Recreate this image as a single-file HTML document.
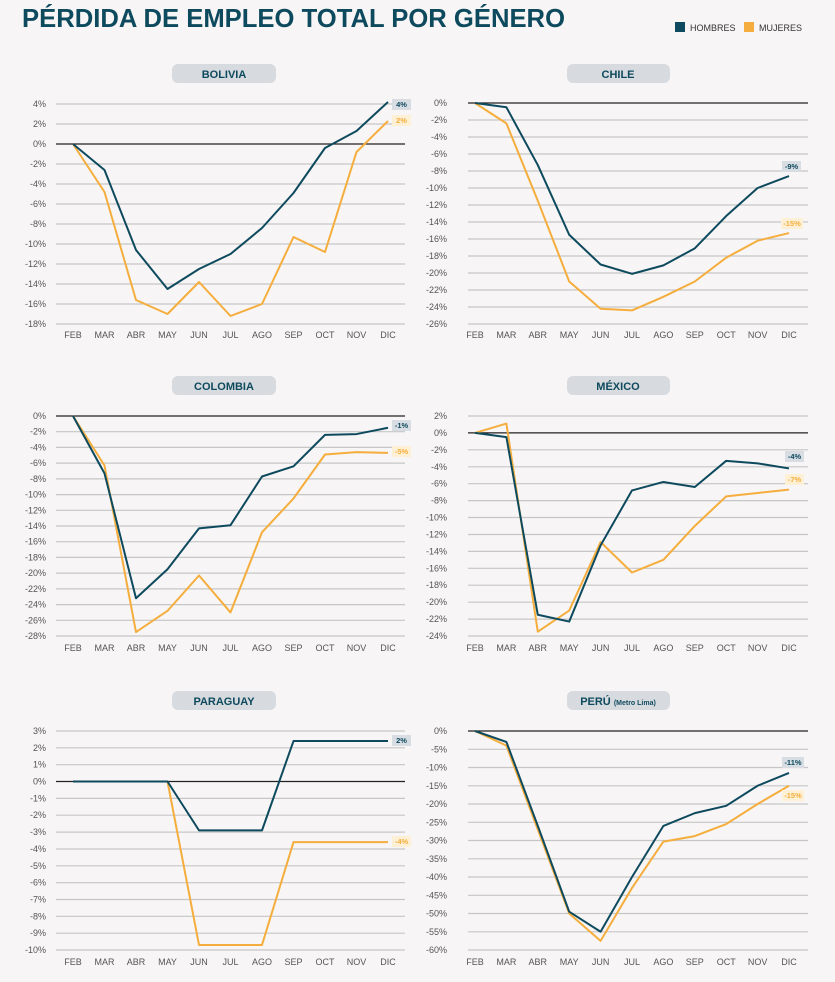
<!DOCTYPE html>
<html><head><meta charset="utf-8"><style>
html,body{margin:0;padding:0;background:#f7f5f5;}
svg{display:block;font-family:"Liberation Sans",sans-serif;}
.g line{stroke:#c6c6c6;stroke-width:1.2}
.z{stroke:#222 !important;stroke-width:1.3 !important}
.yl text{font-size:9px;fill:#555;text-anchor:end}
.ml text{font-size:9px;fill:#555;text-anchor:middle}
.h{fill:none;stroke:#0e4a5e;stroke-width:2;vector-effect:non-scaling-stroke;stroke-linejoin:round}
.m{fill:none;stroke:#f5ae3d;stroke-width:2;vector-effect:non-scaling-stroke;stroke-linejoin:round}
.pt{font-size:11px;font-weight:bold;fill:#0e4a5e;text-anchor:middle}
.tg{font-size:7.5px;font-weight:bold;text-anchor:middle}
</style></head><body>
<svg width="835" height="982" viewBox="0 0 835 982">
<rect width="835" height="982" fill="#f7f5f5"/>
<text x="22" y="27" font-size="26" font-weight="bold" fill="#0e4a5e" textLength="543" lengthAdjust="spacingAndGlyphs">PÉRDIDA DE EMPLEO TOTAL POR GÉNERO</text>
<rect x="675" y="22" width="10" height="10" fill="#0e4a5e"/>
<text x="690" y="31" font-size="9" fill="#333">HOMBRES</text>
<rect x="744" y="22" width="10" height="10" fill="#f5ae3d"/>
<text x="759" y="31" font-size="9" fill="#333">MUJERES</text>

<rect x="172" y="64" width="104" height="19" rx="6" fill="#d7dade"/><text class="pt" x="224" y="78">BOLIVIA</text>
<rect x="567" y="64" width="103" height="19" rx="6" fill="#d7dade"/><text class="pt" x="618" y="78">CHILE</text>
<rect x="172" y="376" width="104" height="19" rx="6" fill="#d7dade"/><text class="pt" x="224" y="390">COLOMBIA</text>
<rect x="567" y="376" width="103" height="19" rx="6" fill="#d7dade"/><text class="pt" x="618" y="390">MÉXICO</text>
<rect x="172" y="691" width="104" height="19" rx="6" fill="#d7dade"/><text class="pt" x="224" y="705">PARAGUAY</text>
<rect x="567" y="691" width="103" height="19" rx="6" fill="#d7dade"/><text class="pt" x="618" y="705">PERÚ <tspan font-size="7">(Metro Lima)</tspan></text>

<g class="g"><line x1="56" x2="405" y1="104" y2="104"/><line x1="56" x2="405" y1="124" y2="124"/><line x1="56" x2="405" y1="164" y2="164"/><line x1="56" x2="405" y1="184" y2="184"/><line x1="56" x2="405" y1="204" y2="204"/><line x1="56" x2="405" y1="224" y2="224"/><line x1="56" x2="405" y1="244" y2="244"/><line x1="56" x2="405" y1="264" y2="264"/><line x1="56" x2="405" y1="284" y2="284"/><line x1="56" x2="405" y1="304" y2="304"/><line x1="56" x2="405" y1="324" y2="324"/><line class="z" x1="56" x2="405" y1="144" y2="144"/></g>
<g class="yl"><text x="46" y="107">4%</text><text x="46" y="127">2%</text><text x="46" y="147">0%</text><text x="46" y="167">-2%</text><text x="46" y="187">-4%</text><text x="46" y="207">-6%</text><text x="46" y="227">-8%</text><text x="46" y="247">-10%</text><text x="46" y="267">-12%</text><text x="46" y="287">-14%</text><text x="46" y="307">-16%</text><text x="46" y="327">-18%</text></g>
<g class="ml"><text x="73" y="338">FEB</text><text x="104.5" y="338">MAR</text><text x="136" y="338">ABR</text><text x="167.5" y="338">MAY</text><text x="199" y="338">JUN</text><text x="230.5" y="338">JUL</text><text x="262" y="338">AGO</text><text x="293.5" y="338">SEP</text><text x="325" y="338">OCT</text><text x="356.5" y="338">NOV</text><text x="388" y="338">DIC</text></g>
<g transform="translate(73,144) scale(31.5,-10)"><polyline class="m" points="0,0 1,-4.8 2,-15.6 3,-17 4,-13.8 5,-17.2 6,-16 7,-9.3 8,-10.8 9,-0.8 10,2.3"/><polyline class="h" points="0,0 1,-2.6 2,-10.6 3,-14.5 4,-12.5 5,-11 6,-8.4 7,-4.9 8,-0.4 9,1.3 10,4.2"/></g>
<rect x="392" y="99" width="19" height="11" fill="#d7dde3"/><text class="tg" x="401.5" y="107" fill="#0e4a5e">4%</text>
<rect x="392" y="115" width="19" height="11" fill="#fdf0d4"/><text class="tg" x="401.5" y="123" fill="#f5ae3d">2%</text>

<g class="g"><line x1="468" x2="808" y1="120" y2="120"/><line x1="468" x2="808" y1="137" y2="137"/><line x1="468" x2="808" y1="154" y2="154"/><line x1="468" x2="808" y1="171" y2="171"/><line x1="468" x2="808" y1="188" y2="188"/><line x1="468" x2="808" y1="205" y2="205"/><line x1="468" x2="808" y1="222" y2="222"/><line x1="468" x2="808" y1="239" y2="239"/><line x1="468" x2="808" y1="256" y2="256"/><line x1="468" x2="808" y1="273" y2="273"/><line x1="468" x2="808" y1="290" y2="290"/><line x1="468" x2="808" y1="307" y2="307"/><line x1="468" x2="808" y1="324" y2="324"/><line class="z" x1="468" x2="808" y1="103" y2="103"/></g>
<g class="yl"><text x="447" y="106">0%</text><text x="447" y="123">-2%</text><text x="447" y="140">-4%</text><text x="447" y="157">-6%</text><text x="447" y="174">-8%</text><text x="447" y="191">-10%</text><text x="447" y="208">-12%</text><text x="447" y="225">-14%</text><text x="447" y="242">-16%</text><text x="447" y="259">-18%</text><text x="447" y="276">-20%</text><text x="447" y="293">-22%</text><text x="447" y="310">-24%</text><text x="447" y="327">-26%</text></g>
<g class="ml"><text x="475" y="338">FEB</text><text x="506.4" y="338">MAR</text><text x="537.8" y="338">ABR</text><text x="569.2" y="338">MAY</text><text x="600.6" y="338">JUN</text><text x="632" y="338">JUL</text><text x="663.4" y="338">AGO</text><text x="694.8" y="338">SEP</text><text x="726.2" y="338">OCT</text><text x="757.6" y="338">NOV</text><text x="789" y="338">DIC</text></g>
<g transform="translate(475,103) scale(31.4,-8.5)"><polyline class="m" points="0,0 1,-2.4 2,-11.5 3,-21 4,-24.2 5,-24.4 6,-22.8 7,-21 8,-18.2 9,-16.2 10,-15.3"/><polyline class="h" points="0,0 1,-0.5 2,-7.3 3,-15.5 4,-19 5,-20.1 6,-19.1 7,-17.1 8,-13.3 9,-10 10,-8.6"/></g>
<rect x="782" y="161" width="19" height="11" fill="#d7dde3"/><text class="tg" x="791.5" y="169" fill="#0e4a5e">-9%</text>
<rect x="781" y="218" width="22" height="11" fill="#fdf0d4"/><text class="tg" x="792" y="226" fill="#f5ae3d">-15%</text>

<g class="g"><line x1="56" x2="405" y1="431.7" y2="431.7"/><line x1="56" x2="405" y1="447.4" y2="447.4"/><line x1="56" x2="405" y1="463.1" y2="463.1"/><line x1="56" x2="405" y1="478.9" y2="478.9"/><line x1="56" x2="405" y1="494.6" y2="494.6"/><line x1="56" x2="405" y1="510.3" y2="510.3"/><line x1="56" x2="405" y1="526" y2="526"/><line x1="56" x2="405" y1="541.7" y2="541.7"/><line x1="56" x2="405" y1="557.4" y2="557.4"/><line x1="56" x2="405" y1="573.1" y2="573.1"/><line x1="56" x2="405" y1="588.9" y2="588.9"/><line x1="56" x2="405" y1="604.6" y2="604.6"/><line x1="56" x2="405" y1="620.3" y2="620.3"/><line x1="56" x2="405" y1="636" y2="636"/><line class="z" x1="56" x2="405" y1="416" y2="416"/></g>
<g class="yl"><text x="46" y="419">0%</text><text x="46" y="434.7">-2%</text><text x="46" y="450.4">-4%</text><text x="46" y="466.1">-6%</text><text x="46" y="481.9">-8%</text><text x="46" y="497.6">-10%</text><text x="46" y="513.3">-12%</text><text x="46" y="529">-14%</text><text x="46" y="544.7">-16%</text><text x="46" y="560.4">-18%</text><text x="46" y="576.1">-20%</text><text x="46" y="591.9">-22%</text><text x="46" y="607.6">-24%</text><text x="46" y="623.3">-26%</text><text x="46" y="639">-28%</text></g>
<g class="ml"><text x="73" y="651">FEB</text><text x="104.5" y="651">MAR</text><text x="136" y="651">ABR</text><text x="167.5" y="651">MAY</text><text x="199" y="651">JUN</text><text x="230.5" y="651">JUL</text><text x="262" y="651">AGO</text><text x="293.5" y="651">SEP</text><text x="325" y="651">OCT</text><text x="356.5" y="651">NOV</text><text x="388" y="651">DIC</text></g>
<g transform="translate(73,416) scale(31.5,-7.857)"><polyline class="m" points="0,0 1,-6.3 2,-27.5 3,-24.8 4,-20.3 5,-25 6,-14.8 7,-10.5 8,-4.9 9,-4.6 10,-4.7"/><polyline class="h" points="0,0 1,-7.3 2,-23.2 3,-19.5 4,-14.3 5,-13.9 6,-7.7 7,-6.4 8,-2.4 9,-2.3 10,-1.5"/></g>
<rect x="392" y="420" width="19" height="11" fill="#d7dde3"/><text class="tg" x="401.5" y="428" fill="#0e4a5e">-1%</text>
<rect x="392" y="446" width="19" height="11" fill="#fdf0d4"/><text class="tg" x="401.5" y="454" fill="#f5ae3d">-5%</text>

<g class="g"><line x1="468" x2="808" y1="416" y2="416"/><line x1="468" x2="808" y1="449.8" y2="449.8"/><line x1="468" x2="808" y1="466.8" y2="466.8"/><line x1="468" x2="808" y1="483.7" y2="483.7"/><line x1="468" x2="808" y1="500.6" y2="500.6"/><line x1="468" x2="808" y1="517.5" y2="517.5"/><line x1="468" x2="808" y1="534.5" y2="534.5"/><line x1="468" x2="808" y1="551.4" y2="551.4"/><line x1="468" x2="808" y1="568.3" y2="568.3"/><line x1="468" x2="808" y1="585.2" y2="585.2"/><line x1="468" x2="808" y1="602.2" y2="602.2"/><line x1="468" x2="808" y1="619.1" y2="619.1"/><line x1="468" x2="808" y1="636" y2="636"/><line class="z" x1="468" x2="808" y1="432.9" y2="432.9"/></g>
<g class="yl"><text x="447" y="419">2%</text><text x="447" y="435.9">0%</text><text x="447" y="452.8">-2%</text><text x="447" y="469.8">-4%</text><text x="447" y="486.7">-6%</text><text x="447" y="503.6">-8%</text><text x="447" y="520.5">-10%</text><text x="447" y="537.5">-12%</text><text x="447" y="554.4">-14%</text><text x="447" y="571.3">-16%</text><text x="447" y="588.2">-18%</text><text x="447" y="605.2">-20%</text><text x="447" y="622.1">-22%</text><text x="447" y="639">-24%</text></g>
<g class="ml"><text x="475" y="651">FEB</text><text x="506.4" y="651">MAR</text><text x="537.8" y="651">ABR</text><text x="569.2" y="651">MAY</text><text x="600.6" y="651">JUN</text><text x="632" y="651">JUL</text><text x="663.4" y="651">AGO</text><text x="694.8" y="651">SEP</text><text x="726.2" y="651">OCT</text><text x="757.6" y="651">NOV</text><text x="789" y="651">DIC</text></g>
<g transform="translate(475,432.9) scale(31.4,-8.46)"><polyline class="m" points="0,0 1,1.1 2,-23.5 3,-21 4,-12.9 5,-16.5 6,-15 7,-11 8,-7.5 9,-7.1 10,-6.7"/><polyline class="h" points="0,0 1,-0.5 2,-21.5 3,-22.3 4,-13.3 5,-6.8 6,-5.8 7,-6.4 8,-3.3 9,-3.6 10,-4.2"/></g>
<rect x="785" y="451" width="19" height="11" fill="#d7dde3"/><text class="tg" x="794.5" y="459" fill="#0e4a5e">-4%</text>
<rect x="785" y="474" width="19" height="11" fill="#fdf0d4"/><text class="tg" x="794.5" y="482" fill="#f5ae3d">-7%</text>

<g class="g"><line x1="56" x2="405" y1="731" y2="731"/><line x1="56" x2="405" y1="747.8" y2="747.8"/><line x1="56" x2="405" y1="764.7" y2="764.7"/><line x1="56" x2="405" y1="798.4" y2="798.4"/><line x1="56" x2="405" y1="815.2" y2="815.2"/><line x1="56" x2="405" y1="832.1" y2="832.1"/><line x1="56" x2="405" y1="849" y2="849"/><line x1="56" x2="405" y1="865.8" y2="865.8"/><line x1="56" x2="405" y1="882.7" y2="882.7"/><line x1="56" x2="405" y1="899.5" y2="899.5"/><line x1="56" x2="405" y1="916.3" y2="916.3"/><line x1="56" x2="405" y1="933.2" y2="933.2"/><line x1="56" x2="405" y1="950" y2="950"/><line class="z" x1="56" x2="405" y1="781.5" y2="781.5"/></g>
<g class="yl"><text x="46" y="734">3%</text><text x="46" y="750.8">2%</text><text x="46" y="767.7">1%</text><text x="46" y="784.5">0%</text><text x="46" y="801.4">-1%</text><text x="46" y="818.2">-2%</text><text x="46" y="835.1">-3%</text><text x="46" y="852">-4%</text><text x="46" y="868.8">-5%</text><text x="46" y="885.7">-6%</text><text x="46" y="902.5">-7%</text><text x="46" y="919.3">-8%</text><text x="46" y="936.2">-9%</text><text x="46" y="953">-10%</text></g>
<g class="ml"><text x="73" y="965">FEB</text><text x="104.5" y="965">MAR</text><text x="136" y="965">ABR</text><text x="167.5" y="965">MAY</text><text x="199" y="965">JUN</text><text x="230.5" y="965">JUL</text><text x="262" y="965">AGO</text><text x="293.5" y="965">SEP</text><text x="325" y="965">OCT</text><text x="356.5" y="965">NOV</text><text x="388" y="965">DIC</text></g>
<g transform="translate(73,781.5) scale(31.5,-16.85)"><polyline class="m" points="0,0 1,0 2,0 3,0 4,-9.7 5,-9.7 6,-9.7 7,-3.6 8,-3.6 9,-3.6 10,-3.6"/><polyline class="h" points="0,0 1,0 2,0 3,0 4,-2.9 5,-2.9 6,-2.9 7,2.4 8,2.4 9,2.4 10,2.4"/></g>
<rect x="392" y="735" width="19" height="11" fill="#d7dde3"/><text class="tg" x="401.5" y="743" fill="#0e4a5e">2%</text>
<rect x="392" y="836" width="19" height="11" fill="#fdf0d4"/><text class="tg" x="401.5" y="844" fill="#f5ae3d">-4%</text>

<g class="g"><line x1="468" x2="808" y1="749.3" y2="749.3"/><line x1="468" x2="808" y1="767.5" y2="767.5"/><line x1="468" x2="808" y1="785.8" y2="785.8"/><line x1="468" x2="808" y1="804" y2="804"/><line x1="468" x2="808" y1="822.3" y2="822.3"/><line x1="468" x2="808" y1="840.5" y2="840.5"/><line x1="468" x2="808" y1="858.8" y2="858.8"/><line x1="468" x2="808" y1="877" y2="877"/><line x1="468" x2="808" y1="895.3" y2="895.3"/><line x1="468" x2="808" y1="913.5" y2="913.5"/><line x1="468" x2="808" y1="931.8" y2="931.8"/><line x1="468" x2="808" y1="950" y2="950"/><line class="z" x1="468" x2="808" y1="731" y2="731"/></g>
<g class="yl"><text x="447" y="734">0%</text><text x="447" y="752.3">-5%</text><text x="447" y="770.5">-10%</text><text x="447" y="788.8">-15%</text><text x="447" y="807">-20%</text><text x="447" y="825.3">-25%</text><text x="447" y="843.5">-30%</text><text x="447" y="861.8">-35%</text><text x="447" y="880">-40%</text><text x="447" y="898.3">-45%</text><text x="447" y="916.5">-50%</text><text x="447" y="934.8">-55%</text><text x="447" y="953">-60%</text></g>
<g class="ml"><text x="475" y="965">FEB</text><text x="506.4" y="965">MAR</text><text x="537.8" y="965">ABR</text><text x="569.2" y="965">MAY</text><text x="600.6" y="965">JUN</text><text x="632" y="965">JUL</text><text x="663.4" y="965">AGO</text><text x="694.8" y="965">SEP</text><text x="726.2" y="965">OCT</text><text x="757.6" y="965">NOV</text><text x="789" y="965">DIC</text></g>
<g transform="translate(475,731) scale(31.4,-3.65)"><polyline class="m" points="0,0 1,-4 2,-27 3,-50 4,-57.5 5,-43 6,-30.3 7,-28.8 8,-25.5 9,-20 10,-15"/><polyline class="h" points="0,0 1,-3 2,-26 3,-49.5 4,-55 5,-40 6,-26 7,-22.5 8,-20.5 9,-15 10,-11.5"/></g>
<rect x="782" y="757" width="22" height="11" fill="#d7dde3"/><text class="tg" x="793" y="765" fill="#0e4a5e">-11%</text>
<rect x="782" y="790" width="22" height="11" fill="#fdf0d4"/><text class="tg" x="793" y="798" fill="#f5ae3d">-15%</text>
</svg>
</body></html>
